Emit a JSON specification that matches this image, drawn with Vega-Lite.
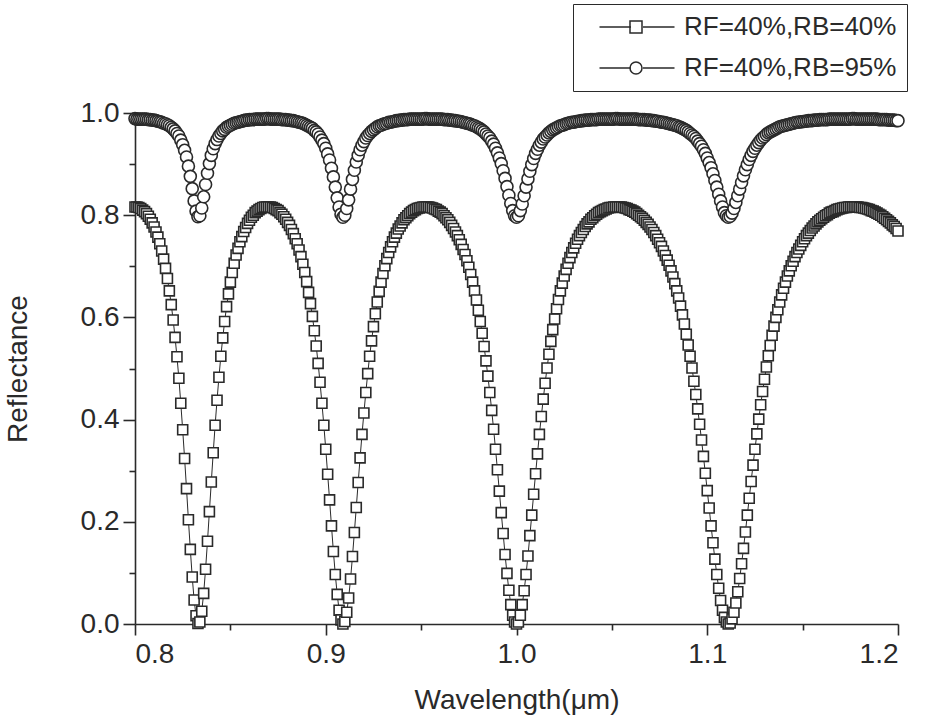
{
"$schema":"https://vega.github.io/schema/vega-lite/v6.json",
"autosize":"none",
"width":763,"height":511,
"padding":{"left":135,"top":113,"right":34,"bottom":100},
"background":"white",
"config":{"view":{"stroke":null},
"axis":{"grid":false,"domainColor":"#2a2a2a","tickColor":"#2a2a2a","labelColor":"#2a2a2a","titleColor":"#2a2a2a","domainWidth":1.6,"tickWidth":1.6,"labelFont":"Liberation Sans","labelFontSize":28,"titleFont":"Liberation Sans","titleFontSize":28,"titleFontWeight":"normal"},
"legend":{"labelFont":"Liberation Sans","labelFontSize":26,"labelColor":"#2a2a2a"}},
"datasets":{
"sq":[{"w":0.8,"r":0.816},{"w":0.801,"r":0.816},{"w":0.802,"r":0.815},{"w":0.803,"r":0.813},{"w":0.804,"r":0.81},{"w":0.805,"r":0.807},{"w":0.806,"r":0.803},{"w":0.807,"r":0.798},{"w":0.808,"r":0.792},{"w":0.809,"r":0.785},{"w":0.81,"r":0.777},{"w":0.811,"r":0.767},{"w":0.812,"r":0.757},{"w":0.813,"r":0.744},{"w":0.814,"r":0.73},{"w":0.815,"r":0.714},{"w":0.816,"r":0.696},{"w":0.817,"r":0.676},{"w":0.818,"r":0.652},{"w":0.819,"r":0.625},{"w":0.82,"r":0.595},{"w":0.821,"r":0.561},{"w":0.822,"r":0.523},{"w":0.823,"r":0.481},{"w":0.824,"r":0.432},{"w":0.825,"r":0.38},{"w":0.826,"r":0.324},{"w":0.827,"r":0.265},{"w":0.828,"r":0.204},{"w":0.829,"r":0.146},{"w":0.83,"r":0.092},{"w":0.831,"r":0.047},{"w":0.832,"r":0.016},{"w":0.833,"r":0.001},{"w":0.834,"r":0.004},{"w":0.835,"r":0.025},{"w":0.836,"r":0.06},{"w":0.837,"r":0.107},{"w":0.838,"r":0.162},{"w":0.839,"r":0.22},{"w":0.84,"r":0.278},{"w":0.841,"r":0.335},{"w":0.842,"r":0.389},{"w":0.843,"r":0.438},{"w":0.844,"r":0.483},{"w":0.845,"r":0.524},{"w":0.846,"r":0.56},{"w":0.847,"r":0.592},{"w":0.848,"r":0.621},{"w":0.849,"r":0.646},{"w":0.85,"r":0.669},{"w":0.851,"r":0.688},{"w":0.852,"r":0.706},{"w":0.853,"r":0.722},{"w":0.854,"r":0.735},{"w":0.855,"r":0.748},{"w":0.856,"r":0.758},{"w":0.857,"r":0.768},{"w":0.858,"r":0.776},{"w":0.859,"r":0.784},{"w":0.86,"r":0.79},{"w":0.861,"r":0.796},{"w":0.862,"r":0.8},{"w":0.863,"r":0.805},{"w":0.864,"r":0.808},{"w":0.865,"r":0.811},{"w":0.866,"r":0.813},{"w":0.867,"r":0.815},{"w":0.868,"r":0.816},{"w":0.869,"r":0.816},{"w":0.87,"r":0.816},{"w":0.871,"r":0.816},{"w":0.872,"r":0.815},{"w":0.873,"r":0.813},{"w":0.874,"r":0.811},{"w":0.875,"r":0.809},{"w":0.876,"r":0.805},{"w":0.877,"r":0.802},{"w":0.878,"r":0.797},{"w":0.879,"r":0.792},{"w":0.88,"r":0.786},{"w":0.881,"r":0.78},{"w":0.882,"r":0.772},{"w":0.883,"r":0.764},{"w":0.884,"r":0.754},{"w":0.885,"r":0.744},{"w":0.886,"r":0.732},{"w":0.887,"r":0.719},{"w":0.888,"r":0.704},{"w":0.889,"r":0.688},{"w":0.89,"r":0.67},{"w":0.891,"r":0.649},{"w":0.892,"r":0.627},{"w":0.893,"r":0.602},{"w":0.894,"r":0.574},{"w":0.895,"r":0.544},{"w":0.896,"r":0.51},{"w":0.897,"r":0.473},{"w":0.898,"r":0.432},{"w":0.899,"r":0.389},{"w":0.9,"r":0.342},{"w":0.901,"r":0.293},{"w":0.902,"r":0.243},{"w":0.903,"r":0.192},{"w":0.904,"r":0.142},{"w":0.905,"r":0.097},{"w":0.906,"r":0.058},{"w":0.907,"r":0.027},{"w":0.908,"r":0.008},{"w":0.909,"r":0.0},{"w":0.91,"r":0.005},{"w":0.911,"r":0.023},{"w":0.912,"r":0.051},{"w":0.913,"r":0.088},{"w":0.914,"r":0.132},{"w":0.915,"r":0.179},{"w":0.916,"r":0.228},{"w":0.917,"r":0.277},{"w":0.918,"r":0.325},{"w":0.919,"r":0.371},{"w":0.92,"r":0.413},{"w":0.921,"r":0.453},{"w":0.922,"r":0.49},{"w":0.923,"r":0.524},{"w":0.924,"r":0.554},{"w":0.925,"r":0.582},{"w":0.926,"r":0.607},{"w":0.927,"r":0.63},{"w":0.928,"r":0.651},{"w":0.929,"r":0.669},{"w":0.93,"r":0.686},{"w":0.931,"r":0.701},{"w":0.932,"r":0.715},{"w":0.933,"r":0.727},{"w":0.934,"r":0.738},{"w":0.935,"r":0.748},{"w":0.936,"r":0.757},{"w":0.937,"r":0.765},{"w":0.938,"r":0.773},{"w":0.939,"r":0.779},{"w":0.94,"r":0.785},{"w":0.941,"r":0.791},{"w":0.942,"r":0.795},{"w":0.943,"r":0.799},{"w":0.944,"r":0.803},{"w":0.945,"r":0.806},{"w":0.946,"r":0.809},{"w":0.947,"r":0.811},{"w":0.948,"r":0.813},{"w":0.949,"r":0.814},{"w":0.95,"r":0.815},{"w":0.951,"r":0.816},{"w":0.952,"r":0.816},{"w":0.953,"r":0.816},{"w":0.954,"r":0.816},{"w":0.955,"r":0.815},{"w":0.956,"r":0.814},{"w":0.957,"r":0.812},{"w":0.958,"r":0.811},{"w":0.959,"r":0.808},{"w":0.96,"r":0.806},{"w":0.961,"r":0.803},{"w":0.962,"r":0.799},{"w":0.963,"r":0.795},{"w":0.964,"r":0.791},{"w":0.965,"r":0.786},{"w":0.966,"r":0.78},{"w":0.967,"r":0.774},{"w":0.968,"r":0.767},{"w":0.969,"r":0.76},{"w":0.97,"r":0.752},{"w":0.971,"r":0.743},{"w":0.972,"r":0.733},{"w":0.973,"r":0.723},{"w":0.974,"r":0.711},{"w":0.975,"r":0.698},{"w":0.976,"r":0.684},{"w":0.977,"r":0.669},{"w":0.978,"r":0.652},{"w":0.979,"r":0.634},{"w":0.98,"r":0.614},{"w":0.981,"r":0.592},{"w":0.982,"r":0.569},{"w":0.983,"r":0.543},{"w":0.984,"r":0.515},{"w":0.985,"r":0.485},{"w":0.986,"r":0.453},{"w":0.987,"r":0.418},{"w":0.988,"r":0.381},{"w":0.989,"r":0.342},{"w":0.99,"r":0.302},{"w":0.991,"r":0.26},{"w":0.992,"r":0.218},{"w":0.993,"r":0.177},{"w":0.994,"r":0.136},{"w":0.995,"r":0.099},{"w":0.996,"r":0.066},{"w":0.997,"r":0.038},{"w":0.998,"r":0.017},{"w":0.999,"r":0.004},{"w":1.0,"r":0.0},{"w":1.001,"r":0.004},{"w":1.002,"r":0.017},{"w":1.003,"r":0.038},{"w":1.004,"r":0.065},{"w":1.005,"r":0.097},{"w":1.006,"r":0.133},{"w":1.007,"r":0.173},{"w":1.008,"r":0.213},{"w":1.009,"r":0.254},{"w":1.01,"r":0.294},{"w":1.011,"r":0.333},{"w":1.012,"r":0.371},{"w":1.013,"r":0.406},{"w":1.014,"r":0.44},{"w":1.015,"r":0.471},{"w":1.016,"r":0.501},{"w":1.017,"r":0.528},{"w":1.018,"r":0.553},{"w":1.019,"r":0.576},{"w":1.02,"r":0.597},{"w":1.021,"r":0.617},{"w":1.022,"r":0.635},{"w":1.023,"r":0.652},{"w":1.024,"r":0.667},{"w":1.025,"r":0.681},{"w":1.026,"r":0.694},{"w":1.027,"r":0.706},{"w":1.028,"r":0.717},{"w":1.029,"r":0.727},{"w":1.03,"r":0.736},{"w":1.031,"r":0.745},{"w":1.032,"r":0.753},{"w":1.033,"r":0.76},{"w":1.034,"r":0.766},{"w":1.035,"r":0.772},{"w":1.036,"r":0.778},{"w":1.037,"r":0.783},{"w":1.038,"r":0.787},{"w":1.039,"r":0.792},{"w":1.04,"r":0.795},{"w":1.041,"r":0.799},{"w":1.042,"r":0.802},{"w":1.043,"r":0.805},{"w":1.044,"r":0.807},{"w":1.045,"r":0.809},{"w":1.046,"r":0.811},{"w":1.047,"r":0.812},{"w":1.048,"r":0.814},{"w":1.049,"r":0.815},{"w":1.05,"r":0.815},{"w":1.051,"r":0.816},{"w":1.052,"r":0.816},{"w":1.053,"r":0.816},{"w":1.054,"r":0.816},{"w":1.055,"r":0.816},{"w":1.056,"r":0.815},{"w":1.057,"r":0.814},{"w":1.058,"r":0.813},{"w":1.059,"r":0.811},{"w":1.06,"r":0.81},{"w":1.061,"r":0.808},{"w":1.062,"r":0.806},{"w":1.063,"r":0.803},{"w":1.064,"r":0.8},{"w":1.065,"r":0.797},{"w":1.066,"r":0.794},{"w":1.067,"r":0.79},{"w":1.068,"r":0.786},{"w":1.069,"r":0.782},{"w":1.07,"r":0.777},{"w":1.071,"r":0.772},{"w":1.072,"r":0.766},{"w":1.073,"r":0.76},{"w":1.074,"r":0.753},{"w":1.075,"r":0.746},{"w":1.076,"r":0.739},{"w":1.077,"r":0.73},{"w":1.078,"r":0.721},{"w":1.079,"r":0.712},{"w":1.08,"r":0.702},{"w":1.081,"r":0.691},{"w":1.082,"r":0.679},{"w":1.083,"r":0.666},{"w":1.084,"r":0.652},{"w":1.085,"r":0.638},{"w":1.086,"r":0.622},{"w":1.087,"r":0.605},{"w":1.088,"r":0.587},{"w":1.089,"r":0.567},{"w":1.09,"r":0.546},{"w":1.091,"r":0.524},{"w":1.092,"r":0.501},{"w":1.093,"r":0.475},{"w":1.094,"r":0.449},{"w":1.095,"r":0.421},{"w":1.096,"r":0.391},{"w":1.097,"r":0.36},{"w":1.098,"r":0.328},{"w":1.099,"r":0.295},{"w":1.1,"r":0.261},{"w":1.101,"r":0.227},{"w":1.102,"r":0.192},{"w":1.103,"r":0.159},{"w":1.104,"r":0.127},{"w":1.105,"r":0.097},{"w":1.106,"r":0.07},{"w":1.107,"r":0.046},{"w":1.108,"r":0.027},{"w":1.109,"r":0.013},{"w":1.11,"r":0.004},{"w":1.111,"r":0.0},{"w":1.112,"r":0.002},{"w":1.113,"r":0.01},{"w":1.114,"r":0.023},{"w":1.115,"r":0.041},{"w":1.116,"r":0.063},{"w":1.117,"r":0.089},{"w":1.118,"r":0.118},{"w":1.119,"r":0.148},{"w":1.12,"r":0.18},{"w":1.121,"r":0.213},{"w":1.122,"r":0.246},{"w":1.123,"r":0.279},{"w":1.124,"r":0.311},{"w":1.125,"r":0.342},{"w":1.126,"r":0.372},{"w":1.127,"r":0.401},{"w":1.128,"r":0.429},{"w":1.129,"r":0.455},{"w":1.13,"r":0.479},{"w":1.131,"r":0.503},{"w":1.132,"r":0.525},{"w":1.133,"r":0.545},{"w":1.134,"r":0.565},{"w":1.135,"r":0.583},{"w":1.136,"r":0.6},{"w":1.137,"r":0.615},{"w":1.138,"r":0.63},{"w":1.139,"r":0.644},{"w":1.14,"r":0.657},{"w":1.141,"r":0.669},{"w":1.142,"r":0.681},{"w":1.143,"r":0.691},{"w":1.144,"r":0.701},{"w":1.145,"r":0.71},{"w":1.146,"r":0.719},{"w":1.147,"r":0.727},{"w":1.148,"r":0.734},{"w":1.149,"r":0.741},{"w":1.15,"r":0.748},{"w":1.151,"r":0.754},{"w":1.152,"r":0.76},{"w":1.153,"r":0.765},{"w":1.154,"r":0.77},{"w":1.155,"r":0.775},{"w":1.156,"r":0.779},{"w":1.157,"r":0.783},{"w":1.158,"r":0.787},{"w":1.159,"r":0.79},{"w":1.16,"r":0.793},{"w":1.161,"r":0.796},{"w":1.162,"r":0.799},{"w":1.163,"r":0.801},{"w":1.164,"r":0.804},{"w":1.165,"r":0.806},{"w":1.166,"r":0.807},{"w":1.167,"r":0.809},{"w":1.168,"r":0.811},{"w":1.169,"r":0.812},{"w":1.17,"r":0.813},{"w":1.171,"r":0.814},{"w":1.172,"r":0.815},{"w":1.173,"r":0.815},{"w":1.174,"r":0.816},{"w":1.175,"r":0.816},{"w":1.176,"r":0.816},{"w":1.177,"r":0.816},{"w":1.178,"r":0.816},{"w":1.179,"r":0.816},{"w":1.18,"r":0.815},{"w":1.181,"r":0.815},{"w":1.182,"r":0.814},{"w":1.183,"r":0.813},{"w":1.184,"r":0.812},{"w":1.185,"r":0.811},{"w":1.186,"r":0.809},{"w":1.187,"r":0.808},{"w":1.188,"r":0.806},{"w":1.189,"r":0.804},{"w":1.19,"r":0.802},{"w":1.191,"r":0.8},{"w":1.192,"r":0.797},{"w":1.193,"r":0.794},{"w":1.194,"r":0.791},{"w":1.195,"r":0.788},{"w":1.196,"r":0.785},{"w":1.197,"r":0.781},{"w":1.198,"r":0.778},{"w":1.199,"r":0.774},{"w":1.2,"r":0.769}],
"ci":[{"w":0.8,"r":0.989},{"w":0.801,"r":0.988},{"w":0.802,"r":0.988},{"w":0.803,"r":0.988},{"w":0.804,"r":0.988},{"w":0.805,"r":0.988},{"w":0.806,"r":0.988},{"w":0.807,"r":0.987},{"w":0.808,"r":0.987},{"w":0.809,"r":0.986},{"w":0.81,"r":0.986},{"w":0.811,"r":0.985},{"w":0.812,"r":0.984},{"w":0.813,"r":0.983},{"w":0.814,"r":0.982},{"w":0.815,"r":0.98},{"w":0.816,"r":0.979},{"w":0.817,"r":0.977},{"w":0.818,"r":0.975},{"w":0.819,"r":0.972},{"w":0.82,"r":0.969},{"w":0.821,"r":0.965},{"w":0.822,"r":0.96},{"w":0.823,"r":0.955},{"w":0.824,"r":0.947},{"w":0.825,"r":0.938},{"w":0.826,"r":0.927},{"w":0.827,"r":0.914},{"w":0.828,"r":0.896},{"w":0.829,"r":0.876},{"w":0.83,"r":0.852},{"w":0.831,"r":0.828},{"w":0.832,"r":0.808},{"w":0.833,"r":0.797},{"w":0.834,"r":0.799},{"w":0.835,"r":0.814},{"w":0.836,"r":0.836},{"w":0.837,"r":0.86},{"w":0.838,"r":0.882},{"w":0.839,"r":0.901},{"w":0.84,"r":0.917},{"w":0.841,"r":0.93},{"w":0.842,"r":0.94},{"w":0.843,"r":0.948},{"w":0.844,"r":0.955},{"w":0.845,"r":0.96},{"w":0.846,"r":0.965},{"w":0.847,"r":0.968},{"w":0.848,"r":0.972},{"w":0.849,"r":0.974},{"w":0.85,"r":0.976},{"w":0.851,"r":0.978},{"w":0.852,"r":0.98},{"w":0.853,"r":0.981},{"w":0.854,"r":0.982},{"w":0.855,"r":0.983},{"w":0.856,"r":0.984},{"w":0.857,"r":0.985},{"w":0.858,"r":0.986},{"w":0.859,"r":0.986},{"w":0.86,"r":0.987},{"w":0.861,"r":0.987},{"w":0.862,"r":0.987},{"w":0.863,"r":0.988},{"w":0.864,"r":0.988},{"w":0.865,"r":0.988},{"w":0.866,"r":0.988},{"w":0.867,"r":0.988},{"w":0.868,"r":0.988},{"w":0.869,"r":0.989},{"w":0.87,"r":0.989},{"w":0.871,"r":0.988},{"w":0.872,"r":0.988},{"w":0.873,"r":0.988},{"w":0.874,"r":0.988},{"w":0.875,"r":0.988},{"w":0.876,"r":0.988},{"w":0.877,"r":0.987},{"w":0.878,"r":0.987},{"w":0.879,"r":0.987},{"w":0.88,"r":0.986},{"w":0.881,"r":0.986},{"w":0.882,"r":0.985},{"w":0.883,"r":0.985},{"w":0.884,"r":0.984},{"w":0.885,"r":0.983},{"w":0.886,"r":0.982},{"w":0.887,"r":0.981},{"w":0.888,"r":0.98},{"w":0.889,"r":0.978},{"w":0.89,"r":0.976},{"w":0.891,"r":0.974},{"w":0.892,"r":0.972},{"w":0.893,"r":0.97},{"w":0.894,"r":0.966},{"w":0.895,"r":0.963},{"w":0.896,"r":0.959},{"w":0.897,"r":0.953},{"w":0.898,"r":0.947},{"w":0.899,"r":0.94},{"w":0.9,"r":0.931},{"w":0.901,"r":0.92},{"w":0.902,"r":0.908},{"w":0.903,"r":0.892},{"w":0.904,"r":0.875},{"w":0.905,"r":0.855},{"w":0.906,"r":0.834},{"w":0.907,"r":0.816},{"w":0.908,"r":0.802},{"w":0.909,"r":0.796},{"w":0.91,"r":0.8},{"w":0.911,"r":0.813},{"w":0.912,"r":0.83},{"w":0.913,"r":0.851},{"w":0.914,"r":0.87},{"w":0.915,"r":0.888},{"w":0.916,"r":0.904},{"w":0.917,"r":0.917},{"w":0.918,"r":0.928},{"w":0.919,"r":0.937},{"w":0.92,"r":0.944},{"w":0.921,"r":0.951},{"w":0.922,"r":0.956},{"w":0.923,"r":0.96},{"w":0.924,"r":0.964},{"w":0.925,"r":0.967},{"w":0.926,"r":0.97},{"w":0.927,"r":0.973},{"w":0.928,"r":0.975},{"w":0.929,"r":0.976},{"w":0.93,"r":0.978},{"w":0.931,"r":0.979},{"w":0.932,"r":0.98},{"w":0.933,"r":0.982},{"w":0.934,"r":0.982},{"w":0.935,"r":0.983},{"w":0.936,"r":0.984},{"w":0.937,"r":0.985},{"w":0.938,"r":0.985},{"w":0.939,"r":0.986},{"w":0.94,"r":0.986},{"w":0.941,"r":0.987},{"w":0.942,"r":0.987},{"w":0.943,"r":0.987},{"w":0.944,"r":0.988},{"w":0.945,"r":0.988},{"w":0.946,"r":0.988},{"w":0.947,"r":0.988},{"w":0.948,"r":0.988},{"w":0.949,"r":0.988},{"w":0.95,"r":0.988},{"w":0.951,"r":0.988},{"w":0.952,"r":0.989},{"w":0.953,"r":0.989},{"w":0.954,"r":0.988},{"w":0.955,"r":0.988},{"w":0.956,"r":0.988},{"w":0.957,"r":0.988},{"w":0.958,"r":0.988},{"w":0.959,"r":0.988},{"w":0.96,"r":0.988},{"w":0.961,"r":0.988},{"w":0.962,"r":0.987},{"w":0.963,"r":0.987},{"w":0.964,"r":0.987},{"w":0.965,"r":0.986},{"w":0.966,"r":0.986},{"w":0.967,"r":0.985},{"w":0.968,"r":0.985},{"w":0.969,"r":0.984},{"w":0.97,"r":0.984},{"w":0.971,"r":0.983},{"w":0.972,"r":0.982},{"w":0.973,"r":0.981},{"w":0.974,"r":0.98},{"w":0.975,"r":0.979},{"w":0.976,"r":0.978},{"w":0.977,"r":0.976},{"w":0.978,"r":0.975},{"w":0.979,"r":0.973},{"w":0.98,"r":0.971},{"w":0.981,"r":0.969},{"w":0.982,"r":0.966},{"w":0.983,"r":0.963},{"w":0.984,"r":0.959},{"w":0.985,"r":0.955},{"w":0.986,"r":0.951},{"w":0.987,"r":0.945},{"w":0.988,"r":0.939},{"w":0.989,"r":0.931},{"w":0.99,"r":0.922},{"w":0.991,"r":0.912},{"w":0.992,"r":0.901},{"w":0.993,"r":0.887},{"w":0.994,"r":0.872},{"w":0.995,"r":0.856},{"w":0.996,"r":0.839},{"w":0.997,"r":0.823},{"w":0.998,"r":0.809},{"w":0.999,"r":0.799},{"w":1.0,"r":0.796},{"w":1.001,"r":0.799},{"w":1.002,"r":0.809},{"w":1.003,"r":0.822},{"w":1.004,"r":0.838},{"w":1.005,"r":0.855},{"w":1.006,"r":0.871},{"w":1.007,"r":0.886},{"w":1.008,"r":0.899},{"w":1.009,"r":0.911},{"w":1.01,"r":0.921},{"w":1.011,"r":0.929},{"w":1.012,"r":0.937},{"w":1.013,"r":0.943},{"w":1.014,"r":0.949},{"w":1.015,"r":0.953},{"w":1.016,"r":0.957},{"w":1.017,"r":0.961},{"w":1.018,"r":0.964},{"w":1.019,"r":0.967},{"w":1.02,"r":0.969},{"w":1.021,"r":0.971},{"w":1.022,"r":0.973},{"w":1.023,"r":0.975},{"w":1.024,"r":0.976},{"w":1.025,"r":0.977},{"w":1.026,"r":0.979},{"w":1.027,"r":0.98},{"w":1.028,"r":0.981},{"w":1.029,"r":0.982},{"w":1.03,"r":0.982},{"w":1.031,"r":0.983},{"w":1.032,"r":0.984},{"w":1.033,"r":0.984},{"w":1.034,"r":0.985},{"w":1.035,"r":0.985},{"w":1.036,"r":0.986},{"w":1.037,"r":0.986},{"w":1.038,"r":0.986},{"w":1.039,"r":0.987},{"w":1.04,"r":0.987},{"w":1.041,"r":0.987},{"w":1.042,"r":0.987},{"w":1.043,"r":0.988},{"w":1.044,"r":0.988},{"w":1.045,"r":0.988},{"w":1.046,"r":0.988},{"w":1.047,"r":0.988},{"w":1.048,"r":0.988},{"w":1.049,"r":0.988},{"w":1.05,"r":0.988},{"w":1.051,"r":0.988},{"w":1.052,"r":0.989},{"w":1.053,"r":0.989},{"w":1.054,"r":0.988},{"w":1.055,"r":0.988},{"w":1.056,"r":0.988},{"w":1.057,"r":0.988},{"w":1.058,"r":0.988},{"w":1.059,"r":0.988},{"w":1.06,"r":0.988},{"w":1.061,"r":0.988},{"w":1.062,"r":0.988},{"w":1.063,"r":0.988},{"w":1.064,"r":0.987},{"w":1.065,"r":0.987},{"w":1.066,"r":0.987},{"w":1.067,"r":0.987},{"w":1.068,"r":0.986},{"w":1.069,"r":0.986},{"w":1.07,"r":0.986},{"w":1.071,"r":0.985},{"w":1.072,"r":0.985},{"w":1.073,"r":0.984},{"w":1.074,"r":0.984},{"w":1.075,"r":0.983},{"w":1.076,"r":0.982},{"w":1.077,"r":0.982},{"w":1.078,"r":0.981},{"w":1.079,"r":0.98},{"w":1.08,"r":0.979},{"w":1.081,"r":0.978},{"w":1.082,"r":0.977},{"w":1.083,"r":0.976},{"w":1.084,"r":0.975},{"w":1.085,"r":0.973},{"w":1.086,"r":0.972},{"w":1.087,"r":0.97},{"w":1.088,"r":0.968},{"w":1.089,"r":0.966},{"w":1.09,"r":0.963},{"w":1.091,"r":0.96},{"w":1.092,"r":0.957},{"w":1.093,"r":0.954},{"w":1.094,"r":0.95},{"w":1.095,"r":0.945},{"w":1.096,"r":0.94},{"w":1.097,"r":0.935},{"w":1.098,"r":0.928},{"w":1.099,"r":0.921},{"w":1.1,"r":0.912},{"w":1.101,"r":0.903},{"w":1.102,"r":0.893},{"w":1.103,"r":0.881},{"w":1.104,"r":0.868},{"w":1.105,"r":0.855},{"w":1.106,"r":0.841},{"w":1.107,"r":0.828},{"w":1.108,"r":0.816},{"w":1.109,"r":0.805},{"w":1.11,"r":0.799},{"w":1.111,"r":0.796},{"w":1.112,"r":0.798},{"w":1.113,"r":0.804},{"w":1.114,"r":0.813},{"w":1.115,"r":0.825},{"w":1.116,"r":0.838},{"w":1.117,"r":0.851},{"w":1.118,"r":0.864},{"w":1.119,"r":0.877},{"w":1.12,"r":0.889},{"w":1.121,"r":0.899},{"w":1.122,"r":0.909},{"w":1.123,"r":0.917},{"w":1.124,"r":0.925},{"w":1.125,"r":0.931},{"w":1.126,"r":0.937},{"w":1.127,"r":0.942},{"w":1.128,"r":0.947},{"w":1.129,"r":0.951},{"w":1.13,"r":0.954},{"w":1.131,"r":0.958},{"w":1.132,"r":0.961},{"w":1.133,"r":0.963},{"w":1.134,"r":0.965},{"w":1.135,"r":0.967},{"w":1.136,"r":0.969},{"w":1.137,"r":0.971},{"w":1.138,"r":0.973},{"w":1.139,"r":0.974},{"w":1.14,"r":0.975},{"w":1.141,"r":0.976},{"w":1.142,"r":0.977},{"w":1.143,"r":0.978},{"w":1.144,"r":0.979},{"w":1.145,"r":0.98},{"w":1.146,"r":0.981},{"w":1.147,"r":0.982},{"w":1.148,"r":0.982},{"w":1.149,"r":0.983},{"w":1.15,"r":0.983},{"w":1.151,"r":0.984},{"w":1.152,"r":0.984},{"w":1.153,"r":0.985},{"w":1.154,"r":0.985},{"w":1.155,"r":0.985},{"w":1.156,"r":0.986},{"w":1.157,"r":0.986},{"w":1.158,"r":0.986},{"w":1.159,"r":0.987},{"w":1.16,"r":0.987},{"w":1.161,"r":0.987},{"w":1.162,"r":0.987},{"w":1.163,"r":0.987},{"w":1.164,"r":0.988},{"w":1.165,"r":0.988},{"w":1.166,"r":0.988},{"w":1.167,"r":0.988},{"w":1.168,"r":0.988},{"w":1.169,"r":0.988},{"w":1.17,"r":0.988},{"w":1.171,"r":0.988},{"w":1.172,"r":0.988},{"w":1.173,"r":0.988},{"w":1.174,"r":0.988},{"w":1.175,"r":0.988},{"w":1.176,"r":0.989},{"w":1.177,"r":0.989},{"w":1.178,"r":0.988},{"w":1.179,"r":0.988},{"w":1.18,"r":0.988},{"w":1.181,"r":0.988},{"w":1.182,"r":0.988},{"w":1.183,"r":0.988},{"w":1.184,"r":0.988},{"w":1.185,"r":0.988},{"w":1.186,"r":0.988},{"w":1.187,"r":0.988},{"w":1.188,"r":0.988},{"w":1.189,"r":0.988},{"w":1.19,"r":0.987},{"w":1.191,"r":0.987},{"w":1.192,"r":0.987},{"w":1.193,"r":0.987},{"w":1.194,"r":0.987},{"w":1.195,"r":0.986},{"w":1.196,"r":0.986},{"w":1.197,"r":0.986},{"w":1.198,"r":0.986},{"w":1.199,"r":0.985},{"w":1.2,"r":0.985}]
},
"resolve":{"axis":{"x":"independent","y":"independent"}},
"layer":[
{"data":{"name":"sq"},"mark":{"type":"line","color":"#2a2a2a","strokeWidth":1},
"encoding":{"x":{"field":"w","type":"quantitative","scale":{"domain":[0.8,1.2]},"axis":{"orient":"bottom","values":[0.8,0.9,1.0,1.1,1.2],"format":".1f","tickSize":11,"labelPadding":5,"title":"Wavelength(μm)","titlePadding":18}},
"y":{"field":"r","type":"quantitative","scale":{"domain":[0,1]},"axis":{"orient":"left","values":[0,0.2,0.4,0.6,0.8,1.0],"format":".1f","tickSize":12,"labelPadding":4,"title":"Reflectance","titlePadding":48}}}},
{"data":{"name":"ci"},"mark":{"type":"line","color":"#2a2a2a","strokeWidth":1},
"encoding":{"x":{"field":"w","type":"quantitative","axis":{"orient":"bottom","values":[0.85,0.95,1.05,1.15],"tickSize":6,"labels":false,"domain":false,"title":null}},
"y":{"field":"r","type":"quantitative","axis":{"orient":"left","values":[0.1,0.3,0.5,0.7,0.9],"tickSize":6,"labels":false,"domain":false,"title":null}}}},
{"data":{"name":"sq"},"mark":{"type":"point","shape":"square","filled":true,"fill":"white","stroke":"#2a2a2a","strokeWidth":1.6,"size":100,"opacity":1},
"encoding":{"x":{"field":"w","type":"quantitative","axis":null},"y":{"field":"r","type":"quantitative","axis":null}}},
{"data":{"name":"ci"},"mark":{"type":"point","shape":"circle","filled":true,"fill":"white","stroke":"#2a2a2a","strokeWidth":1.6,"size":144,"opacity":1},
"encoding":{"x":{"field":"w","type":"quantitative","axis":null},"y":{"field":"r","type":"quantitative","axis":null}}},
{"data":{"name":"sq"},"transform":[{"filter":"datum.w > 5"}],
"mark":{"type":"point","filled":true,"fill":"white","stroke":"#2a2a2a","strokeWidth":1.5,"size":144,"opacity":1},
"encoding":{"x":{"field":"w","type":"quantitative","axis":null},"y":{"field":"r","type":"quantitative","axis":null},
"shape":{"datum":"RF=40%,RB=40%","type":"nominal","scale":{"domain":["RF=40%,RB=40%","RF=40%,RB=95%"],"range":["square","circle"]},
"legend":{"title":null,"orient":"none","legendX":438,"legendY":-109,"padding":10,"strokeColor":"#2a2a2a","fillColor":"white","symbolSize":144,"symbolOffset":40,"labelOffset":35,"rowPadding":15,"labelLimit":400,
"encode":{"legend":{"strokeWidth":{"value":1.5}}}}}}},
{"data":{"name":"sq"},"transform":[{"filter":"datum.w > 5"}],
"mark":{"type":"point","filled":false,"stroke":"#2a2a2a","strokeWidth":1.5,"size":100,"opacity":1},
"encoding":{"x":{"field":"w","type":"quantitative","axis":null},"y":{"field":"r","type":"quantitative","axis":null},
"strokeDash":{"datum":" ","type":"nominal","scale":{"domain":[" ","  "],"range":[[1,0],[1,0]]},
"legend":{"title":null,"orient":"none","legendX":438,"legendY":-109,"padding":10,"strokeColor":"transparent","fillColor":"transparent","symbolType":"M-7.5,0H-1.2M1.2,0H7.5","symbolSize":100,"symbolOffset":41,"labelOffset":32,"rowPadding":15,"symbolOpacity":1,"symbolStrokeWidth":1.5,"symbolFillColor":"transparent","symbolStrokeColor":"#2a2a2a"}}}}
]
}
